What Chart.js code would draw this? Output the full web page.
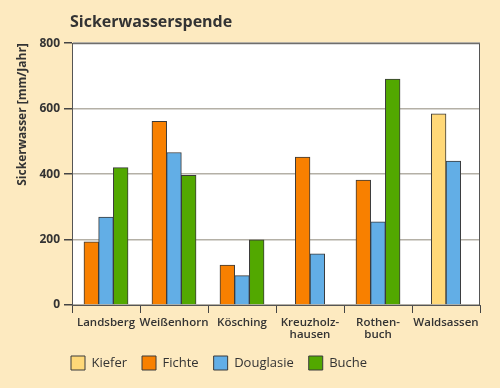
<!DOCTYPE html>
<html>
<head>
<meta charset="utf-8">
<script src="https://cdn.jsdelivr.net/npm/chart.js@4/dist/chart.umd.min.js"></script>
<style>
  html, body { margin: 0; padding: 0; background: #fdeac0; }
  #wrap { width: 500px; height: 388px; }
</style>
</head>
<body>
<div id="wrap"><canvas id="chart"></canvas></div>
<script>
const categories = ['Landsberg', 'Weißenhorn', 'Kösching', ['Kreuzholz-', 'hausen'], ['Rothen-', 'buch'], 'Waldsassen'];
const kiefer = [null, null, null, null, null, 584];
const fichte = [193, 561, 122, 452, 382, null];
const douglasie = [269, 466, 90, 156, 254, 440];
const buche = [420, 396, 199, null, 690, null];
const yTicks = [0, 200, 400, 600, 800];

const textColor = '#333';
const fontFamily = '"Open Sans", "Noto Sans", sans-serif';

// background, white plot area and dark frame
const framePlugin = {
    id: 'frame',
    beforeDraw(chart) {
        const ctx = chart.ctx;
        const a = chart.chartArea;
        ctx.save();
        ctx.fillStyle = '#fdeac0';
        ctx.fillRect(0, 0, chart.width, chart.height);
        ctx.fillStyle = '#ffffff';
        ctx.fillRect(a.left, a.top, a.right - a.left, a.bottom - a.top);
        ctx.restore();
    },
    afterDatasetsDraw(chart) {
        const ctx = chart.ctx;
        const a = chart.chartArea;
        ctx.save();
        ctx.strokeStyle = '#555';
        ctx.lineWidth = 1;
        ctx.strokeRect(a.left + 0.5, a.top + 0.5, a.right - a.left - 1, a.bottom - a.top);
        ctx.restore();
    },
    afterLayout(chart) {
        // move title and legend so they start at the plot's left edge
        if (chart.titleBlock) {
            chart.titleBlock.left = 70;
        }
        if (chart.legend) {
            chart.legend.left = 56;
        }
    }
};

const ds = (label, data, color) => ({
    label: label,
    data: data,
    backgroundColor: color,
    borderColor: '#3a3a3a',
    borderWidth: 1,
    skipNull: true,
    barThickness: 14.7
});

new Chart(document.getElementById('chart'), {
    type: 'bar',
    data: {
        labels: categories,
        datasets: [
            ds('Kiefer', kiefer, '#ffd878'),
            ds('Fichte', fichte, '#f88000'),
            ds('Douglasie', douglasie, '#62aee6'),
            ds('Buche', buche, '#52a800')
        ]
    },
    plugins: [framePlugin],
    options: {
        responsive: true,
        maintainAspectRatio: false,
        animation: false,
        layout: { padding: { top: 0, right: 20, bottom: 8, left: 0 } },
        plugins: {
            title: {
                display: true,
                text: 'Sickerwasserspende',
                align: 'start',
                color: textColor,
                font: { family: fontFamily, size: 16, weight: 'bold' },
                padding: { top: 13, bottom: 11 }
            },
            legend: {
                position: 'bottom',
                align: 'start',
                labels: {
                    boxWidth: 14,
                    boxHeight: 14,
                    padding: 15,
                    color: textColor,
                    font: { family: fontFamily, size: 13 }
                }
            },
            tooltip: { enabled: false }
        },
        scales: {
            x: {
                grid: {
                    offset: true,
                    drawOnChartArea: false,
                    drawTicks: true,
                    tickLength: 8,
                    tickColor: '#444'
                },
                border: { display: true, color: '#555' },
                ticks: {
                    color: textColor,
                    padding: 4,
                    maxRotation: 0,
                    autoSkip: false,
                    font: { family: fontFamily, size: 11.5, weight: '600', lineHeight: 1.0 }
                },
                afterFit(scale) {
                    scale.height = 36;
                }
            },
            y: {
                min: 0,
                max: 800,
                afterBuildTicks(scale) {
                    scale.ticks = yTicks.map(v => ({ value: v }));
                },
                grid: {
                    color: '#b4b0a6',
                    lineWidth: 1.5,
                    tickColor: '#444',
                    tickLength: 8
                },
                border: { display: true, color: '#555' },
                ticks: {
                    color: textColor,
                    padding: 4,
                    font: { family: fontFamily, size: 12, weight: 'bold' }
                },
                title: {
                    display: true,
                    text: 'Sickerwasser [mm/Jahr]',
                    align: 'end',
                    color: textColor,
                    padding: { top: 15, bottom: 0 },
                    font: { family: fontFamily, size: 12, weight: 'bold' }
                },
                afterFit(scale) {
                    scale.width = 72;
                }
            }
        }
    }
});
</script>
</body>
</html>
